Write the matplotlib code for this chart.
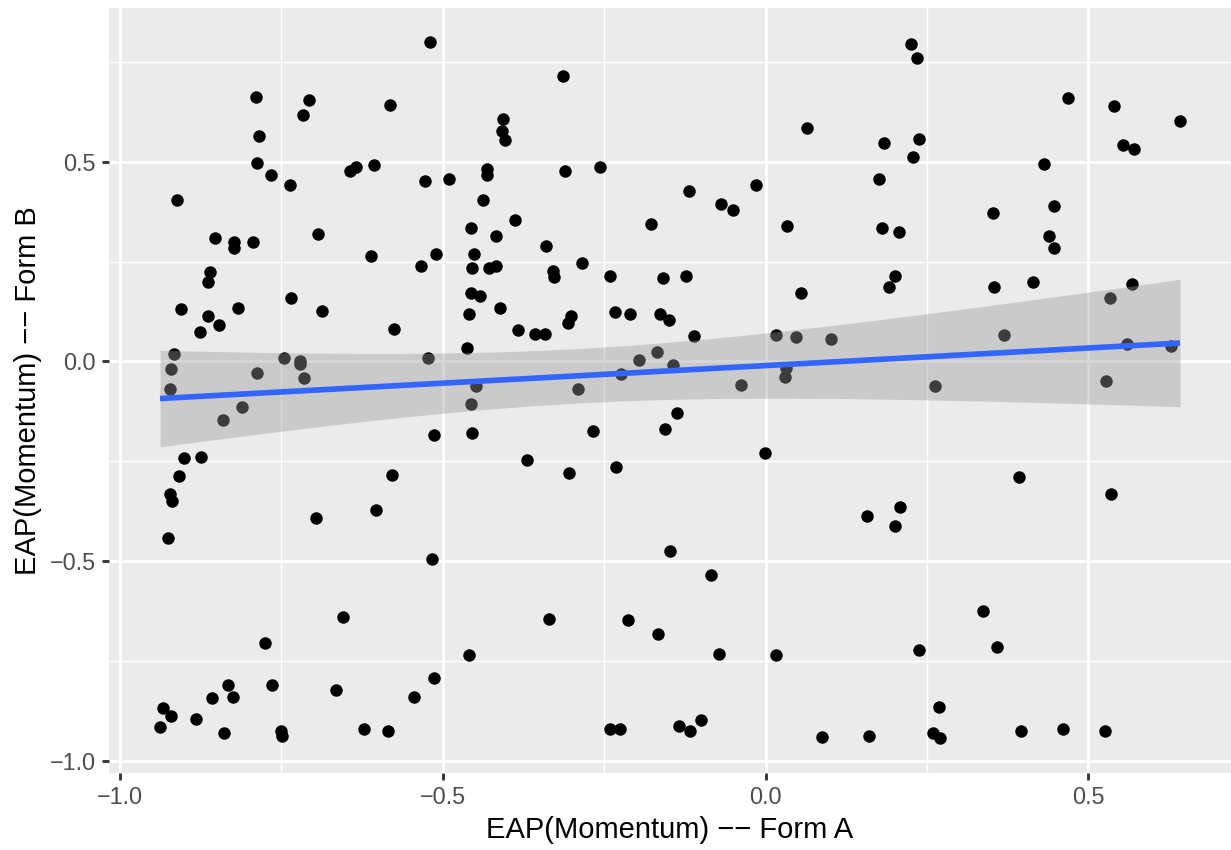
import numpy as np
import matplotlib
matplotlib.use("Agg")
import matplotlib.pyplot as plt

# EAP(Momentum) scores (Form A on x, Form B on y)
form_a = [
    -0.519, -0.789, -0.707, -0.717, -0.581, -0.785, -0.788, -0.766, -0.737, -0.643,
    -0.635, -0.607, -0.528, -0.491, -0.431, -0.431, -0.911, -0.853, -0.823, -0.823,
    -0.794, -0.693, -0.611, -0.511, -0.533, -0.861, -0.864, -0.456, -0.451, -0.454,
    -0.456, -0.442, -0.459, -0.462, -0.905, -0.864, -0.846, -0.876, -0.817, -0.735,
    -0.687, -0.576, -0.438, -0.917, -0.921, -0.922, -0.788, -0.746, -0.721, -0.721,
    -0.715, -0.523, -0.449, -0.456, -0.811, -0.840,
    -0.313, -0.406, -0.408, -0.403, 0.064, -0.310, -0.256, -0.119, -0.069, -0.051,
    -0.015, -0.388, -0.177, 0.033, -0.417, -0.340, -0.429, -0.418, -0.329, -0.327,
    -0.284, -0.241, -0.159, -0.123, 0.055, -0.411, -0.233, -0.210, -0.163, -0.149,
    -0.302, -0.306, -0.384, -0.357, -0.341, -0.111, 0.016, 0.047, 0.102, -0.168,
    -0.196, -0.143, -0.224, 0.031, 0.030, -0.038, -0.290,
    0.226, 0.234, 0.469, 0.540, 0.642, 0.183, 0.238, 0.228, 0.554, 0.571,
    0.432, 0.175, 0.353, 0.447, 0.180, 0.206, 0.439, 0.447, 0.201, 0.191,
    0.354, 0.415, 0.568, 0.534, 0.370, 0.560, 0.628, 0.263, 0.528,
    -0.514, -0.454, -0.901, -0.874, -0.909, -0.922, -0.919, -0.925, -0.579, -0.604,
    -0.697, -0.516, -0.655, -0.775, -0.460, -0.513, -0.764, -0.666, -0.545, -0.833,
    -0.825, -0.857, -0.933, -0.921, -0.882, -0.938, -0.839, -0.751, -0.749, -0.622,
    -0.585,
    -0.137, -0.156, -0.268, -0.001, -0.370, -0.304, -0.232, -0.148, -0.085, -0.336,
    -0.213, -0.166, -0.072, 0.016, -0.241, -0.225, -0.134, -0.117, -0.100, 0.087,
    0.393, 0.535, 0.157, 0.209, 0.201, 0.337, 0.359, 0.237, 0.269, 0.160,
    0.260, 0.271, 0.396, 0.460, 0.526,
]
form_b = [
    0.799, 0.661, 0.654, 0.616, 0.641, 0.564, 0.496, 0.468, 0.441, 0.476,
    0.488, 0.491, 0.453, 0.456, 0.481, 0.468, 0.405, 0.308, 0.298, 0.285,
    0.298, 0.318, 0.265, 0.268, 0.239, 0.225, 0.200, 0.335, 0.268, 0.235,
    0.172, 0.165, 0.120, 0.034, 0.132, 0.115, 0.092, 0.074, 0.135, 0.160,
    0.127, 0.082, 0.403, 0.019, -0.018, -0.068, -0.028, 0.009, 0.002, -0.006,
    -0.041, 0.009, -0.061, -0.106, -0.113, -0.146,
    0.714, 0.606, 0.576, 0.554, 0.584, 0.476, 0.486, 0.426, 0.395, 0.380,
    0.443, 0.353, 0.343, 0.338, 0.313, 0.290, 0.235, 0.239, 0.227, 0.212,
    0.247, 0.215, 0.210, 0.215, 0.172, 0.135, 0.125, 0.120, 0.120, 0.105,
    0.115, 0.097, 0.079, 0.069, 0.069, 0.064, 0.067, 0.062, 0.057, 0.024,
    0.004, -0.008, -0.031, -0.016, -0.038, -0.058, -0.069,
    0.794, 0.759, 0.659, 0.639, 0.601, 0.546, 0.556, 0.511, 0.543, 0.531,
    0.494, 0.456, 0.372, 0.388, 0.335, 0.323, 0.313, 0.283, 0.215, 0.187,
    0.187, 0.200, 0.195, 0.160, 0.067, 0.044, 0.039, -0.061, -0.048,
    -0.184, -0.178, -0.241, -0.239, -0.286, -0.332, -0.349, -0.442, -0.284, -0.372,
    -0.392, -0.495, -0.640, -0.705, -0.735, -0.793, -0.809, -0.823, -0.841, -0.811,
    -0.841, -0.843, -0.868, -0.888, -0.896, -0.916, -0.931, -0.926, -0.938, -0.921,
    -0.926,
    -0.129, -0.169, -0.174, -0.229, -0.247, -0.279, -0.264, -0.475, -0.535, -0.645,
    -0.648, -0.681, -0.731, -0.735, -0.921, -0.919, -0.913, -0.926, -0.898, -0.941,
    -0.289, -0.332, -0.387, -0.364, -0.412, -0.625, -0.715, -0.723, -0.866, -0.938,
    -0.931, -0.943, -0.924, -0.921, -0.926,
]

x_ticks = [-1.0, -0.5, 0.0, 0.5]
y_ticks = [-1.0, -0.5, 0.0, 0.5]


def lm_band(x, y, n_grid=80, t_crit=1.972):
    """geom_smooth(method='lm') style fit with 95% confidence band."""
    x = np.asarray(x)
    y = np.asarray(y)
    slope, intercept = np.polyfit(x, y, 1)
    resid = y - (slope * x + intercept)
    s = np.sqrt(np.sum(resid ** 2) / (len(x) - 2))
    sxx = np.sum((x - x.mean()) ** 2)
    grid = np.linspace(x.min(), x.max(), n_grid)
    fit = slope * grid + intercept
    se = s * np.sqrt(1.0 / len(x) + (grid - x.mean()) ** 2 / sxx)
    return grid, fit, fit - t_crit * se, fit + t_crit * se


SC = 1.91  # ggplot pt -> matplotlib pt at this output size

plt.rcParams['font.family'] = ['Liberation Sans', 'DejaVu Sans']

fig = plt.figure(figsize=(12.31, 8.5), dpi=100)
ax = fig.add_axes([109 / 1231, 1 - 773 / 850, 1 - 109 / 1231, (773 - 7.5) / 850])
ax.set_facecolor('#EBEBEB')

# panel grid, theme_gray style
for v in [-0.75, -0.25, 0.25]:
    ax.axvline(v, color='white', lw=0.53 * SC, zorder=0)
for v in [-0.75, -0.25, 0.25, 0.75]:
    ax.axhline(v, color='white', lw=0.53 * SC, zorder=0)
for v in x_ticks:
    ax.axvline(v, color='white', lw=1.07 * SC, zorder=0)
for v in y_ticks:
    ax.axhline(v, color='white', lw=1.07 * SC, zorder=0)

ax.scatter(form_a, form_b, s=(4.7 * SC) ** 2, color='black', linewidths=0, zorder=2)

grid, fit, lo, hi = lm_band(form_a, form_b)
ax.fill_between(grid, lo, hi, color='#999999', alpha=0.4, linewidth=0, zorder=3)
ax.plot(grid, fit, color='#3366FF', lw=2.13 * SC, zorder=4, solid_capstyle='butt')

xa = np.asarray(form_a)
yb = np.asarray(form_b)
xr = xa.max() - xa.min()
yr = yb.max() - yb.min()
ax.set_xlim(xa.min() - 0.05 * xr, xa.max() + 0.05 * xr)
ax.set_ylim(yb.min() - 0.05 * yr, yb.max() + 0.05 * yr)

ax.set_xticks(x_ticks)
ax.set_yticks(y_ticks)
ax.set_xticklabels([f'{v:.1f}'.replace('-', '\u2212') for v in x_ticks])
ax.set_yticklabels([f'{v:.1f}'.replace('-', '\u2212') for v in y_ticks])
ax.tick_params(axis='both', length=2.75 * SC, width=1.07 * SC, color='#333333',
               labelcolor='#4D4D4D', labelsize=8.8 * SC, pad=2.2 * SC)
for sp in ax.spines.values():
    sp.set_visible(False)

ax.set_xlabel('EAP(Momentum) \u2212\u2212 Form A', fontsize=11 * SC, color='black', labelpad=2.75 * SC)
ax.set_ylabel('EAP(Momentum) \u2212\u2212 Form B', fontsize=11 * SC, color='black', labelpad=2.75 * SC)

fig.savefig('out.png', dpi=100)
